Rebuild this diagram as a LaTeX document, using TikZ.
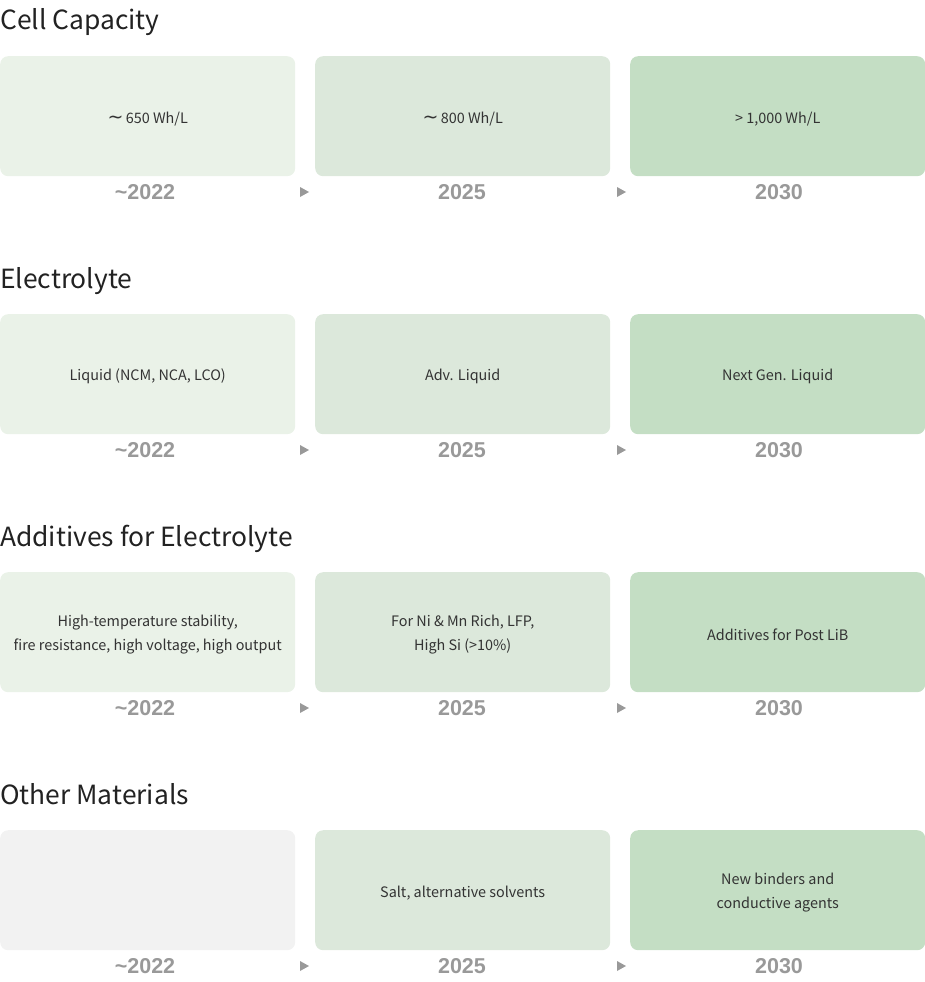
\documentclass[tikz,border=0pt]{standalone}
\usepackage{fontspec}
\setmainfont{Noto Sans CJK KR}
\newfontfamily\yearfont{Liberation Sans}
\newfontfamily\dejavu{DejaVu Sans}
\definecolor{cA}{HTML}{EAF2E8}
\definecolor{cB}{HTML}{DCE8DB}
\definecolor{cC}{HTML}{C4DEC4}
\definecolor{cG}{HTML}{F2F2F2}
\definecolor{txt}{HTML}{333333}
\definecolor{yr}{HTML}{999999}
\definecolor{ttl}{HTML}{222222}
\tikzset{
  card/.style={fill=#1, draw=none, rounded corners=8pt, minimum width=295pt, minimum height=120pt, inner sep=0pt, anchor=north west},
  cardtxt/.style={inner sep=0pt, align=center, text=txt, font=\fontsize{14.4}{24}\selectfont},
  yearlbl/.style={text=yr, font=\yearfont\bfseries\fontsize{21.5}{24}\selectfont, inner sep=0pt},
  title/.style={anchor=base west, inner sep=0pt, text=ttl, font=\fontsize{26.4}{32}\selectfont},
  tri/.style={fill=yr, draw=none}
}
\newcommand{\tl}{{\dejavu\fontsize{19}{24}\selectfont\raisebox{-0.5pt}{∼}}}
\newcommand{\cardrow}[7]{%
  \node[title] (t#1) at (0,#2+30) {#3};
  \node[card=#7] (a#1) at (0,#2+56) {};
  \node[card=cB] (b#1) at (315,#2+56) {};
  \node[card=cC] (c#1) at (630,#2+56) {};
  \node[cardtxt] (at#1) at ([yshift=-2.5pt]a#1.center) {#4};
  \node[cardtxt] (bt#1) at ([yshift=-2.5pt]b#1.center) {#5};
  \node[cardtxt] (ct#1) at ([yshift=-2.5pt]c#1.center) {#6};
  \node[yearlbl] (ya#1) at (145,#2+192.5) {\textasciitilde2022};
  \node[yearlbl] (yb#1) at (462,#2+192.5) {2025};
  \node[yearlbl] (yc#1) at (779,#2+192.5) {2030};
  \coordinate (p#1) at (300,#2+192);
  \coordinate (q#1) at (617,#2+192);
  \fill[tri] ([yshift=5pt]p#1) -- ([xshift=9pt]p#1) -- ([yshift=-5pt]p#1) -- cycle;
  \fill[tri] ([yshift=5pt]q#1) -- ([xshift=9pt]q#1) -- ([yshift=-5pt]q#1) -- cycle;
}
\begin{document}
\begin{tikzpicture}[x=1pt,y=-1pt]
\useasboundingbox (0,0) rectangle (925,982);
\cardrow{1}{0}{Cell Capacity}{\tl\,650 Wh/L}{\tl\,800 Wh/L}{> 1,000 Wh/L}{cA}
\cardrow{2}{258}{Electrolyte}{Liquid (NCM, NCA, LCO)}{Adv. Liquid}{Next Gen. Liquid}{cA}
\cardrow{3}{516}{Additives for Electrolyte}{High-temperature stability,\\fire resistance, high voltage, high output}{For Ni \& Mn Rich, LFP,\\High Si (>10\%)}{Additives for Post LiB}{cA}
\cardrow{4}{774}{Other Materials}{}{Salt, alternative solvents}{New binders and\\conductive agents}{cG}
\end{tikzpicture}
\end{document}
